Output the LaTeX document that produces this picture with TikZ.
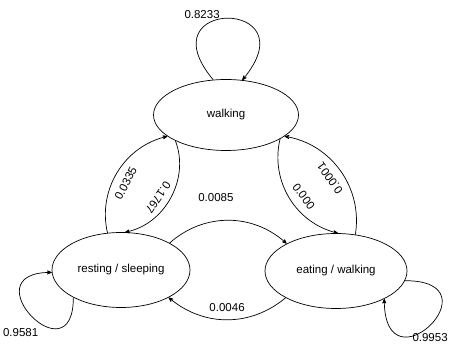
\documentclass[tikz,border=0pt]{standalone}
\usepackage{fontspec}
\setmainfont{Liberation Sans}
\usepackage{tikz}
\usetikzlibrary{arrows, shapes.geometric}

\begin{document}
\begin{tikzpicture}[x=1pt, y=1pt, >=stealth', line width=0.7pt,
        every node/.style={font=\fontsize{11.5}{13}\selectfont},
        activity/.style={draw, ellipse, minimum width=142pt, minimum height=75pt, inner sep=0pt}]
    \useasboundingbox (0,0) rectangle (454,347);
    \node[activity, minimum width=145pt, minimum height=71pt](walk) at (226,232) {walking};
    \node[activity, minimum width=138pt](rest)                      at (121,77)  {resting / sleeping};
    \node[activity](eat)                                            at (336,76)  {eating / walking};
    % Transitions
    \path
        (walk.110)
            edge [->, out=130, in=50, looseness=9.4] node[above=6pt, pos=0.3] {0.8233} (walk.65)
        (walk.207)
            edge [->, bend left=50] node[sloped, allow upside down, below=3pt, pos=0.56] {0.1767} (rest.84)
        (walk.336)
            edge [->, bend right=45] node[sloped, above=5pt, pos=0.56] {0.000} (eat.87)
        (rest.110)
            edge [->, bend left=45] node[sloped, below=5pt, pos=0.45] {0.0335} (walk.200)
        (rest.29)
            edge [->, bend left=42] node[above=16pt, pos=0.4] {0.0085} (eat.151)
        (rest.210)
            edge [->, out=-90, in=180, looseness=6.4] node[below left, pos=0.4] {0.9581} (rest.182)
        (eat.62)
            edge [->, bend right=45] node[sloped, allow upside down, above=5pt] {0.0001} (walk.340)
        (eat.208)
            edge [->, bend left=40] node[above=4pt] {0.0046} (rest.330)
        (eat.352)
            edge [->, out=0, in=-90, looseness=8.8] node[below=5pt] {0.9953} (eat.330)
        ;
\end{tikzpicture}
\end{document}
